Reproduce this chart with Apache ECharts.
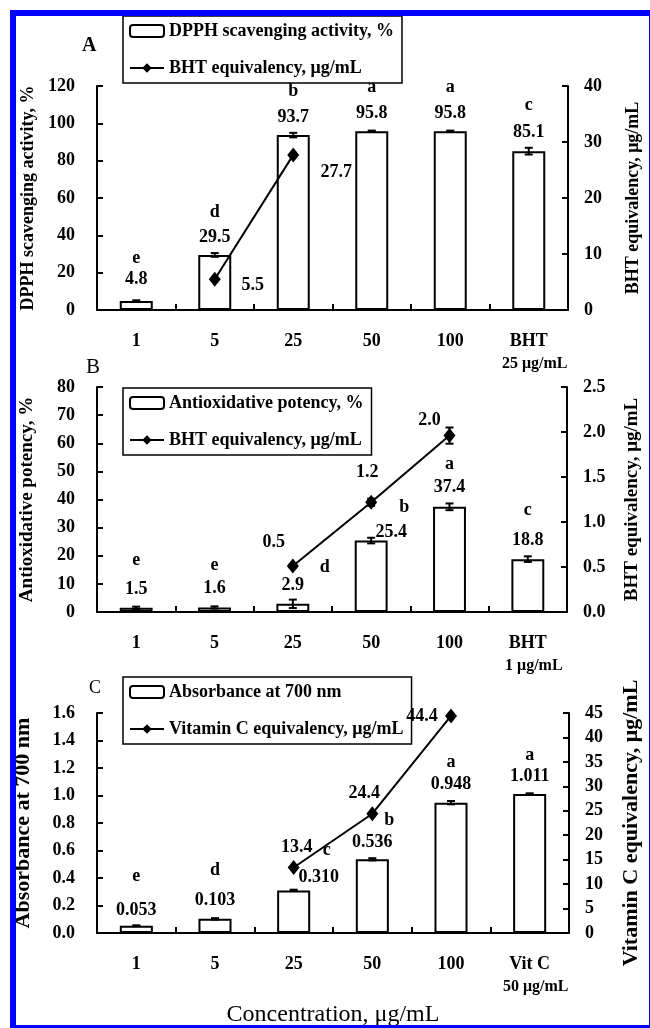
<!DOCTYPE html>
<html>
<head>
<meta charset="utf-8">
<script src="https://cdn.jsdelivr.net/npm/echarts@6/dist/echarts.min.js"></script>
<style>
  html, body { margin: 0; padding: 0; background: #fff; overflow: hidden; width: 650px; height: 1028px; }
  #clip { position: absolute; left: 0; top: 0; width: 650px; height: 1028px; overflow: hidden; }
  #chart { position: absolute; left: 0; top: 0; width: 650px; height: 1028px; }
  #frame { position: absolute; left: 10px; top: 10px; width: 633px; height: 1009px; border: 6px solid #0000ff; pointer-events: none; }
</style>
</head>
<body>
<div id="clip">
  <div id="chart"></div>
  <div id="frame"></div>
</div>
<script>
// panel A: DPPH
const categoriesA = ['1', '5', '25', '50', '100', 'BHT']
const doseA = '25 μg/mL'
const dpph = [4.8, 29.5, 93.7, 95.8, 95.8, 85.1]
const dpphErr = [0.4, 1.0, 1.2, 0.3, 0.3, 1.8]
const dpphLetters = ['e', 'd', 'b', 'a', 'a', 'c']
const bhtEqA = [null, 5.5, 27.7, null, null, null]

// panel B: antioxidative potency
const categoriesB = ['1', '5', '25', '50', '100', 'BHT']
const doseB = '1 μg/mL'
const antiox = [1.5, 1.6, 2.9, 25.4, 37.4, 18.8]
const antioxErr = [0.4, 0.4, 1.5, 1.0, 1.2, 1.0]
const antioxLetters = ['e', 'e', 'd', 'b', 'a', 'c']
const bhtEqB = [null, null, 0.51, 1.22, 1.96, null]
const bhtEqBErr = [null, null, 0.02, 0.04, 0.09, null]

// panel C: reducing power
const categoriesC = ['1', '5', '25', '50', '100', 'Vit C']
const doseC = '50 μg/mL'
const absorb = [0.053, 0.103, 0.310, 0.536, 0.948, 1.011]
const absorbErr = [0.003, 0.005, 0.005, 0.008, 0.012, 0.005]
const absorbLetters = ['e', 'd', 'c', 'b', 'a', 'a']
const vitCEq = [null, null, 13.4, 24.4, 44.4, null]

const FONT = 'Liberation Serif'
const txt = (size, weight = 'bold') => ({ fontFamily: FONT, fontWeight: weight, fontSize: size, color: '#000' })

const panels = [
  {
    cats: categoriesA, dose: doseA, bars: dpph, err: dpphErr, letters: dpphLetters, line: bhtEqA, lineErr: null,
    barName: 'DPPH scavenging activity, %', lineName: 'BHT equivalency, μg/mL',
    leftName: 'DPPH scavenging activity, %', rightName: 'BHT equivalency, μg/mL',
    grid: { left: 97, top: 86, width: 482, height: 224 },
    lmax: 120, lstep: 20, ldig: 0, rmax: 40, rstep: 10, rdig: 0, barDig: 1,
    nameSize: 18, leftGap: 56, rightGap: 56,
    legend: { left: 123, top: 16 },
    title: { text: 'A', left: 82, top: 36, size: 20, weight: 'bold' },
    lineOff: [null, [38, 6], [43, 17], null, null, null],
    valRise: [22, 18, 18, 18, 18, 19], valDx: [0, 0, 0, 0, 0, 0],
    letterOff: [[0, -43], [0, -43], [0, -44], [0, -44], [0, -44], [0, -46]],
  },
  {
    cats: categoriesB, dose: doseB, bars: antiox, err: antioxErr, letters: antioxLetters, line: bhtEqB, lineErr: bhtEqBErr,
    barName: 'Antioxidative potency, %', lineName: 'BHT equivalency, μg/mL',
    leftName: 'Antioxidative potency, %', rightName: 'BHT equivalency, μg/mL',
    grid: { left: 97, top: 387, width: 488, height: 225 },
    lmax: 80, lstep: 10, ldig: 0, rmax: 2.5, rstep: 0.5, rdig: 1, barDig: 1,
    nameSize: 19, leftGap: 60, rightGap: 56,
    legend: { left: 123, top: 388 },
    title: { text: 'B', left: 86, top: 357, size: 21, weight: 'normal' },
    lineOff: [null, null, [-19, -24], [-4, -30], [-20, -15], null],
    valRise: [18, 19, 19, 8, 19, 19], valDx: [0, 0, 0, 20, 0, 0],
    letterOff: [[0, -47], [0, -42], [32, -37], [33, -33], [0, -42], [0, -49]],
  },
  {
    cats: categoriesC, dose: doseC, bars: absorb, err: absorbErr, letters: absorbLetters, line: vitCEq, lineErr: null,
    barName: 'Absorbance at 700 nm', lineName: 'Vitamin C equivalency, μg/mL',
    leftName: 'Absorbance at 700 nm', rightName: 'Vitamin C equivalency, μg/mL',
    grid: { left: 97, top: 713, width: 491, height: 227 },
    lmax: 1.6, lstep: 0.2, ldig: 1, rmax: 45, rstep: 5, rdig: 0, barDig: 3,
    nameSize: 22, leftGap: 63, rightGap: 51,
    legend: { left: 123, top: 677 },
    title: { text: 'C', left: 89, top: 679, size: 18, weight: 'normal' },
    lineOff: [null, null, [3, -20], [-8, -20], [-29, 0], null],
    valRise: [15, 18, 13, 17, 18, 18], valDx: [0, 0, 25, 0, 0, 0],
    letterOff: [[0, -49], [0, -48], [33, -40], [17, -39], [0, -40], [0, -39]],
  },
]

function errorBars(xi, yi, vals, errs) {
  return {
    type: 'custom', xAxisIndex: xi, yAxisIndex: yi, silent: true, z: 5,
    data: vals.map((v, k) => (v == null ? null : [k, v, errs[k]])).filter(d => d),
    renderItem: (params, api) => {
      const k = api.value(0), v = api.value(1), e = api.value(2)
      const hi = api.coord([k, v + e])
      const lo = api.coord([k, v - e])
      const style = { stroke: '#000', lineWidth: 2 }
      return {
        type: 'group',
        children: [
          { type: 'line', shape: { x1: hi[0], y1: hi[1], x2: lo[0], y2: lo[1] }, style },
          { type: 'line', shape: { x1: hi[0] - 4, y1: hi[1], x2: hi[0] + 4, y2: hi[1] }, style },
          { type: 'line', shape: { x1: lo[0] - 4, y1: lo[1], x2: lo[0] + 4, y2: lo[1] }, style },
        ],
      }
    },
  }
}

const axisLine = { show: true, lineStyle: { color: '#000', width: 2 } }
const axisTick = { show: true, inside: true, length: 6, lineStyle: { color: '#000', width: 2 } }

const grid = [], xAxis = [], yAxis = [], series = [], legend = [], title = []

panels.forEach((p, i) => {
  grid.push(p.grid)
  title.push({ text: p.title.text, left: p.title.left, top: p.title.top, padding: 0, textStyle: txt(p.title.size, p.title.weight) })

  xAxis.push({
    type: 'category', gridIndex: i, data: p.cats,
    axisLine, axisTick,
    axisLabel: {
      ...txt(18), margin: 20, lineHeight: 23, interval: 0,
      formatter: (v, k) => (k === p.cats.length - 1 ? `${v}\n{s|${p.dose}}` : v),
      rich: { s: { ...txt(16), lineHeight: 21, padding: [0, 0, 0, 12] } },
    },
    ...(i === 2 ? { name: 'Concentration, μg/mL', nameLocation: 'middle', nameGap: 70, nameTextStyle: txt(24, 'normal') } : {}),
  })

  yAxis.push({
    type: 'value', gridIndex: i, position: 'left', min: 0, max: p.lmax, interval: p.lstep,
    name: p.leftName, nameLocation: 'middle', nameGap: p.leftGap, nameTextStyle: txt(p.nameSize),
    axisLine, axisTick, splitLine: { show: false },
    axisLabel: { ...txt(18), margin: 22, formatter: v => v.toFixed(p.ldig) },
  })
  yAxis.push({
    type: 'value', gridIndex: i, position: 'right', min: 0, max: p.rmax, interval: p.rstep,
    name: p.rightName, nameLocation: 'middle', nameGap: p.rightGap, nameTextStyle: txt(p.nameSize),
    axisLine, axisTick, splitLine: { show: false },
    axisLabel: { ...txt(18), margin: 16, formatter: v => v.toFixed(p.rdig) },
  })

  series.push({
    type: 'bar', name: p.barName, xAxisIndex: i, yAxisIndex: 2 * i, barWidth: '42%',
    itemStyle: { color: '#fff', borderColor: '#000', borderWidth: 2 },
    label: { show: true, position: 'top', distance: 0, ...txt(18), lineHeight: 18, formatter: d => d.value.toFixed(p.barDig) },
    data: p.bars.map((v, k) => ({ value: v, label: { offset: [p.valDx[k], -(p.valRise[k] - 9)] } })),
  })

  // significance letters, placed above each bar
  series.push({
    type: 'scatter', xAxisIndex: i, yAxisIndex: 2 * i, symbolSize: 0, silent: true, z: 6,
    itemStyle: { color: '#000', opacity: 1 },
    label: { show: true, position: 'inside', ...txt(18), textBorderWidth: 0, formatter: d => p.letters[d.dataIndex] },
    data: p.bars.map((v, k) => ({ value: v, label: { offset: p.letterOff[k] } })),
  })

  series.push({
    type: 'line', name: p.lineName, xAxisIndex: i, yAxisIndex: 2 * i + 1, z: 4,
    symbol: 'diamond', symbolSize: [12, 15],
    lineStyle: { color: '#000', width: 2 }, itemStyle: { color: '#000' },
    label: { show: true, position: 'inside', ...txt(18), textBorderWidth: 0, formatter: d => d.value.toFixed(1) },
    data: p.line.map((v, k) => (v == null ? null : { value: v, label: { offset: p.lineOff[k] } })),
  })

  series.push(errorBars(i, 2 * i, p.bars, p.err))
  if (p.lineErr) series.push(errorBars(i, 2 * i + 1, p.line, p.lineErr))

  legend.push({
    data: [p.barName, p.lineName], orient: 'vertical', left: p.legend.left, top: p.legend.top,
    padding: [6, 8, 6, 6], itemGap: 19, itemWidth: 34, itemHeight: 12,
    borderColor: '#000', borderWidth: 1.5, selectedMode: false,
    textStyle: txt(18),
  })
})

const chart = echarts.init(document.getElementById('chart'))
chart.setOption({
  backgroundColor: '#ffffff',
  animation: false,
  title, grid, xAxis, yAxis, series, legend,
})
</script>
</body>
</html>
